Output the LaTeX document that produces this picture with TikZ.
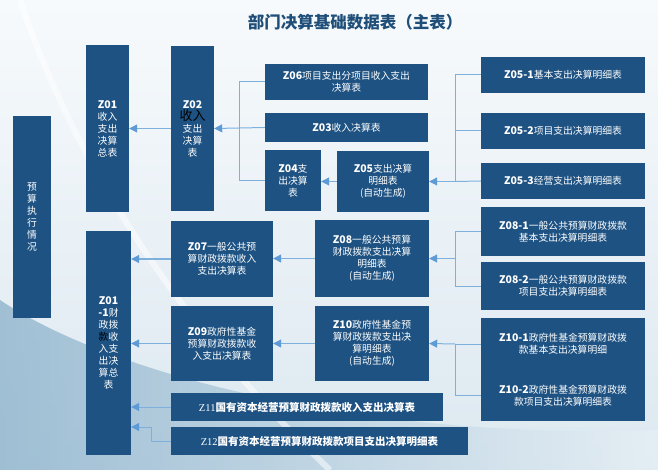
\documentclass[tikz,border=0pt]{standalone}
\usepackage{fontspec}
\setmainfont{Noto Sans CJK SC}
\newfontfamily\serifz{Liberation Serif}
\usetikzlibrary{arrows.meta}
\definecolor{boxblue}{HTML}{1D5282}
\definecolor{linkblue}{HTML}{7EB0DE}
\definecolor{tipblue}{HTML}{5D9AD6}
\definecolor{titleblue}{HTML}{1F4E79}
\definecolor{bgtop}{HTML}{F7FAFC}
\definecolor{bgbot}{HTML}{DCE8F0}
\definecolor{wavel}{HTML}{8FB4CD}
\definecolor{waver}{HTML}{E6EFF5}
\tikzset{
  box/.style={fill=boxblue, text=white, inner sep=0pt, align=center,
    font=\fontsize{9.8}{12}\selectfont},
  ln/.style={draw=linkblue, line width=1pt},
  arr/.style={ln, -{Triangle[length=8pt,width=8pt,color=tipblue]}},
}
\newcommand{\zcode}[1]{{\fontsize{10.5}{12}\selectfont\bfseries #1}}
\begin{document}
\begin{tikzpicture}[x=1pt,y=-1pt]
\useasboundingbox (0,0) rectangle (658,470);
\shade[top color=bgtop, bottom color=bgbot] (0,0) rectangle (658,470);
\shade[left color=wavel, right color=waver, opacity=0.8]
  (0,300) .. controls (120,380) and (380,440) .. (658,430) -- (658,470) -- (0,470) -- cycle;
\draw[white, line width=6pt, opacity=0.5] (20,0) .. controls (60,120) and (150,300) .. (330,470);

\node[font=\fontsize{16.5}{18}\selectfont\bfseries, text=titleblue] (title) at (355,22) {部门决算基础数据表（主表）};

\node[box, minimum width=38pt, minimum height=202pt] (exec) at (32,217) {预\\算\\执\\行\\情\\况};
\node[box, minimum width=43pt, minimum height=167pt] (z01) at (107.5,128.5) {\zcode{Z01}\\收入\\支出\\决算\\总表};
\node[box, minimum width=43pt, minimum height=165pt] (z02) at (192.5,128.5) {\zcode{Z02}\\{\color{black}\fontsize{13}{12}\selectfont 收入}\\支出\\决算\\表};
\node[box, minimum width=163pt, minimum height=36pt] (z06) at (346.5,82) {\zcode{Z06}项目支出分项目收入支出\\决算表};
\node[box, minimum width=163pt, minimum height=29pt] (z03) at (346.5,127.5) {\zcode{Z03}收入决算表};
\node[box, minimum width=56pt, minimum height=61pt] (z04) at (293,180.5) {\zcode{Z04}支\\出决算\\表};
\node[box, minimum width=92pt, minimum height=61pt] (z05) at (383,181.5) {\zcode{Z05}支出决算\\明细表\\(自动生成)};
\node[box, minimum width=164pt, minimum height=36pt] (z051) at (563,75) {\zcode{Z05-1}基本支出决算明细表};
\node[box, minimum width=164pt, minimum height=36pt] (z052) at (563,131) {\zcode{Z05-2}项目支出决算明细表};
\node[box, minimum width=164pt, minimum height=36pt] (z053) at (563,181) {\zcode{Z05-3}经营支出决算明细表};
\node[box, minimum width=164pt, minimum height=49pt] (z081) at (563,231.5) {\zcode{Z08-1}一般公共预算财政拨款\\基本支出决算明细表};
\node[box, minimum width=164pt, minimum height=48pt] (z082) at (563,286) {\zcode{Z08-2}一般公共预算财政拨款\\项目支出决算明细表};
\node[box, minimum width=164pt, minimum height=52pt] (z101) at (563,344) {\zcode{Z10-1}政府性基金预算财政拨\\款基本支出决算明细};
\node[box, minimum width=164pt, minimum height=51pt] (z102) at (563,395.5) {\zcode{Z10-2}政府性基金预算财政拨\\款项目支出决算明细表};
\node[box, minimum width=102pt, minimum height=76pt] (z07) at (222,259) {\zcode{Z07}一般公共预\\算财政拨款收入\\支出决算表};
\node[box, minimum width=114pt, minimum height=77pt] (z08) at (372,258.5) {\zcode{Z08}一般公共预算\\财政拨款支出决算\\明细表\\(自动生成)};
\node[box, minimum width=102pt, minimum height=75pt] (z09) at (222,343.5) {\zcode{Z09}政府性基金\\预算财政拨款收\\入支出决算表};
\node[box, minimum width=114pt, minimum height=75pt] (z10) at (372,343.5) {\zcode{Z10}政府性基金预\\算财政拨款支出决\\算明细表\\(自动生成)};
\node[box, minimum width=45pt, minimum height=224pt] (z011) at (108.5,343) {\zcode{Z01}\\\zcode{-1}财\\政拨\\{\color{black}款}收\\入支\\出决\\算总\\表};
\node[box, minimum width=272pt, minimum height=28pt, font=\fontsize{10.5}{12}\selectfont\bfseries] (z11) at (307,407) {{\serifz\mdseries Z11}国有资本经营预算财政拨款收入支出决算表};
\node[box, minimum width=297pt, minimum height=28pt, font=\fontsize{10.5}{12}\selectfont\bfseries] (z12) at (319.5,441) {{\serifz\mdseries Z12}国有资本经营预算财政拨款项目支出决算明细表};

% connectors
\coordinate (j1) at (239,128);
\coordinate (j2) at (455,181.5);
\coordinate (j3) at (455,258.5);
\coordinate (j4) at (455,344);
\coordinate (k1) at (151,427);

\draw[arr] (z02.west) -- (z01.east);
\draw[ln] (z06.west) -| (j1);
\draw[ln] (z04.west) -| (j1);
\draw[ln] (z03.west) -- (j1);
\draw[arr] (j1) -- (z02.east);
\draw[arr] (z05.west) -- (z05.west -| z04.east);
\draw[ln] (z051.west) -| (j2);
\draw[ln] (z052.west) -| (j2);
\draw[ln] (z053.west) -- (j2);
\draw[arr] (j2) -- (z05.east);
\draw[ln] (z081.west) -| (j3);
\draw[ln] (z082.west) -| (j3);
\draw[arr] (j3) -- (z08.east);
\draw[ln] (z101.west) -- (j4);
\draw[ln] (z102.west) -| (j4);
\draw[arr] (j4) -- (z10.east);
\draw[arr] (z08.west) -- (z08.west -| z07.east);
\draw[arr] (z10.west) -- (z10.west -| z09.east);
\draw[arr] (z07.west) -- (z07.west -| z011.east);
\draw[arr] (z09.west) -- (z09.west -| z011.east);
\draw[arr] (z11.west) -- (z11.west -| z011.east);
\draw[arr] (z12.west) -| (k1) -- (k1 -| z011.east);
\end{tikzpicture}
\end{document}
